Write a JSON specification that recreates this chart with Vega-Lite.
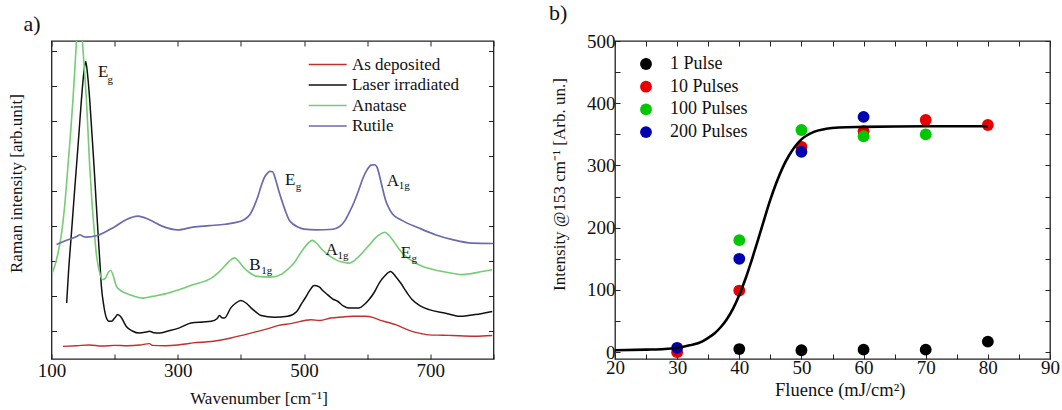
{
"$schema": "https://vega.github.io/schema/vega-lite/v6.json",
"background": "white",
"padding": {"left": 6.5, "top": 1, "right": 0, "bottom": 0},
"spacing": 52.5,
"resolve": {"scale": {"color": "independent"}, "legend": {"color": "independent"}},
"config": {
  "font": "Liberation Serif",
  "view": {"stroke": "#222", "strokeWidth": 1.3},
  "axis": {"domain": false, "grid": false, "tickColor": "#222", "tickSize": -5, "tickWidth": 1,
    "labelFont": "Liberation Serif", "labelFontSize": 19, "labelColor": "#111",
    "titleFont": "Liberation Serif", "titleFontSize": 17, "titleFontWeight": "normal", "titleColor": "#111",
    "labelFlush": false, "labelOverlap": false},
  "legend": {"labelFont": "Liberation Serif", "labelColor": "#111", "padding": 0, "title": null},
  "title": {"font": "Liberation Serif", "fontSize": 22, "fontWeight": "normal", "color": "#111", "anchor": "start", "frame": "group"}
},
"datasets": {
  "spectra": [
    {"s":"As deposited","wn":118,"I":56},{"s":"As deposited","wn":140,"I":58},{"s":"As deposited","wn":160,"I":60},{"s":"As deposited","wn":180,"I":57},{"s":"As deposited","wn":200,"I":59},{"s":"As deposited","wn":220,"I":58},{"s":"As deposited","wn":240,"I":60},{"s":"As deposited","wn":255,"I":64},{"s":"As deposited","wn":260,"I":59},{"s":"As deposited","wn":280,"I":58},{"s":"As deposited","wn":300,"I":60},{"s":"As deposited","wn":313,"I":63},{"s":"As deposited","wn":324,"I":66},{"s":"As deposited","wn":353,"I":70},{"s":"As deposited","wn":384,"I":80},{"s":"As deposited","wn":416,"I":94},{"s":"As deposited","wn":447,"I":109},{"s":"As deposited","wn":460,"I":116},{"s":"As deposited","wn":479,"I":121},{"s":"As deposited","wn":511,"I":132},{"s":"As deposited","wn":525,"I":130},{"s":"As deposited","wn":542,"I":137},{"s":"As deposited","wn":560,"I":140},{"s":"As deposited","wn":577,"I":142},{"s":"As deposited","wn":597,"I":142},{"s":"As deposited","wn":610,"I":138},{"s":"As deposited","wn":619,"I":132},{"s":"As deposited","wn":632,"I":125},{"s":"As deposited","wn":645,"I":118},{"s":"As deposited","wn":658,"I":108},{"s":"As deposited","wn":671,"I":99},{"s":"As deposited","wn":685,"I":93},{"s":"As deposited","wn":698,"I":89},{"s":"As deposited","wn":720,"I":88},{"s":"As deposited","wn":735,"I":87},{"s":"As deposited","wn":771,"I":85},{"s":"As deposited","wn":798,"I":87},
    {"s":"Laser irradiated","wn":124,"I":180},{"s":"Laser irradiated","wn":127,"I":270},{"s":"Laser irradiated","wn":131.6,"I":380},{"s":"Laser irradiated","wn":135.5,"I":475},{"s":"Laser irradiated","wn":139.5,"I":570},{"s":"Laser irradiated","wn":143.5,"I":665},{"s":"Laser irradiated","wn":147.4,"I":761},{"s":"Laser irradiated","wn":151,"I":835},{"s":"Laser irradiated","wn":154.2,"I":870},{"s":"Laser irradiated","wn":157,"I":835},{"s":"Laser irradiated","wn":160.5,"I":761},{"s":"Laser irradiated","wn":164,"I":665},{"s":"Laser irradiated","wn":167.4,"I":570},{"s":"Laser irradiated","wn":170.5,"I":475},{"s":"Laser irradiated","wn":173.7,"I":380},{"s":"Laser irradiated","wn":176.5,"I":300},{"s":"Laser irradiated","wn":179,"I":228},{"s":"Laser irradiated","wn":183,"I":170},{"s":"Laser irradiated","wn":187,"I":137},{"s":"Laser irradiated","wn":191,"I":128},{"s":"Laser irradiated","wn":195,"I":128},{"s":"Laser irradiated","wn":200,"I":137},{"s":"Laser irradiated","wn":205,"I":147},{"s":"Laser irradiated","wn":210,"I":140},{"s":"Laser irradiated","wn":218.5,"I":113},{"s":"Laser irradiated","wn":228,"I":100},{"s":"Laser irradiated","wn":239.5,"I":94},{"s":"Laser irradiated","wn":250,"I":97},{"s":"Laser irradiated","wn":255,"I":99},{"s":"Laser irradiated","wn":262,"I":95},{"s":"Laser irradiated","wn":271,"I":94},{"s":"Laser irradiated","wn":285,"I":100},{"s":"Laser irradiated","wn":302.7,"I":109},{"s":"Laser irradiated","wn":321,"I":123},{"s":"Laser irradiated","wn":340,"I":126},{"s":"Laser irradiated","wn":353,"I":128},{"s":"Laser irradiated","wn":362,"I":135},{"s":"Laser irradiated","wn":366,"I":144},{"s":"Laser irradiated","wn":370,"I":138},{"s":"Laser irradiated","wn":374,"I":137},{"s":"Laser irradiated","wn":384,"I":166},{"s":"Laser irradiated","wn":392,"I":180},{"s":"Laser irradiated","wn":400,"I":187},{"s":"Laser irradiated","wn":408,"I":180},{"s":"Laser irradiated","wn":416,"I":166},{"s":"Laser irradiated","wn":424,"I":154},{"s":"Laser irradiated","wn":432,"I":144},{"s":"Laser irradiated","wn":453,"I":139},{"s":"Laser irradiated","wn":474,"I":142},{"s":"Laser irradiated","wn":488,"I":155},{"s":"Laser irradiated","wn":495,"I":175},{"s":"Laser irradiated","wn":502,"I":195},{"s":"Laser irradiated","wn":508,"I":213},{"s":"Laser irradiated","wn":516,"I":230},{"s":"Laser irradiated","wn":524,"I":226},{"s":"Laser irradiated","wn":530,"I":215},{"s":"Laser irradiated","wn":537,"I":204},{"s":"Laser irradiated","wn":545,"I":192},{"s":"Laser irradiated","wn":553,"I":185},{"s":"Laser irradiated","wn":562,"I":172},{"s":"Laser irradiated","wn":571,"I":166},{"s":"Laser irradiated","wn":587,"I":166},{"s":"Laser irradiated","wn":595,"I":175},{"s":"Laser irradiated","wn":603,"I":190},{"s":"Laser irradiated","wn":611,"I":210},{"s":"Laser irradiated","wn":619,"I":237},{"s":"Laser irradiated","wn":628,"I":258},{"s":"Laser irradiated","wn":637,"I":270},{"s":"Laser irradiated","wn":645,"I":256},{"s":"Laser irradiated","wn":653,"I":237},{"s":"Laser irradiated","wn":662,"I":212},{"s":"Laser irradiated","wn":671,"I":190},{"s":"Laser irradiated","wn":684,"I":172},{"s":"Laser irradiated","wn":698,"I":161},{"s":"Laser irradiated","wn":724,"I":151},{"s":"Laser irradiated","wn":748,"I":142},{"s":"Laser irradiated","wn":771,"I":147},{"s":"Laser irradiated","wn":798,"I":156},
    {"s":"Anatase","wn":101,"I":266},{"s":"Anatase","wn":105,"I":285},{"s":"Anatase","wn":110,"I":320},{"s":"Anatase","wn":116,"I":380},{"s":"Anatase","wn":121,"I":460},{"s":"Anatase","wn":126,"I":570},{"s":"Anatase","wn":130,"I":660},{"s":"Anatase","wn":134,"I":761},{"s":"Anatase","wn":137,"I":850},{"s":"Anatase","wn":139.5,"I":928},{"s":"Anatase","wn":144,"I":1100},{"s":"Anatase","wn":149,"I":928},{"s":"Anatase","wn":152,"I":850},{"s":"Anatase","wn":155.3,"I":761},{"s":"Anatase","wn":160.5,"I":571},{"s":"Anatase","wn":164,"I":470},{"s":"Anatase","wn":168,"I":380},{"s":"Anatase","wn":171,"I":320},{"s":"Anatase","wn":174,"I":286},{"s":"Anatase","wn":177,"I":262},{"s":"Anatase","wn":180.5,"I":247},{"s":"Anatase","wn":185,"I":250},{"s":"Anatase","wn":190,"I":268},{"s":"Anatase","wn":193.7,"I":273},{"s":"Anatase","wn":197,"I":262},{"s":"Anatase","wn":202.7,"I":228},{"s":"Anatase","wn":210,"I":215},{"s":"Anatase","wn":218,"I":208},{"s":"Anatase","wn":230,"I":200},{"s":"Anatase","wn":245,"I":194},{"s":"Anatase","wn":260,"I":199},{"s":"Anatase","wn":280,"I":206},{"s":"Anatase","wn":302,"I":218},{"s":"Anatase","wn":324,"I":232},{"s":"Anatase","wn":353,"I":251},{"s":"Anatase","wn":365,"I":268},{"s":"Anatase","wn":374,"I":285},{"s":"Anatase","wn":383,"I":302},{"s":"Anatase","wn":390,"I":309},{"s":"Anatase","wn":397,"I":298},{"s":"Anatase","wn":405,"I":280},{"s":"Anatase","wn":415,"I":265},{"s":"Anatase","wn":426,"I":256},{"s":"Anatase","wn":447,"I":254},{"s":"Anatase","wn":463,"I":261},{"s":"Anatase","wn":474,"I":276},{"s":"Anatase","wn":484,"I":294},{"s":"Anatase","wn":492,"I":316},{"s":"Anatase","wn":500,"I":337},{"s":"Anatase","wn":507,"I":352},{"s":"Anatase","wn":513,"I":359},{"s":"Anatase","wn":520,"I":350},{"s":"Anatase","wn":529,"I":332},{"s":"Anatase","wn":540,"I":315},{"s":"Anatase","wn":550,"I":304},{"s":"Anatase","wn":560,"I":297},{"s":"Anatase","wn":571,"I":294},{"s":"Anatase","wn":582,"I":305},{"s":"Anatase","wn":592,"I":323},{"s":"Anatase","wn":603,"I":345},{"s":"Anatase","wn":613,"I":366},{"s":"Anatase","wn":620,"I":376},{"s":"Anatase","wn":628,"I":382},{"s":"Anatase","wn":635,"I":372},{"s":"Anatase","wn":642,"I":356},{"s":"Anatase","wn":650,"I":335},{"s":"Anatase","wn":661,"I":313},{"s":"Anatase","wn":674,"I":297},{"s":"Anatase","wn":687,"I":285},{"s":"Anatase","wn":700,"I":278},{"s":"Anatase","wn":719,"I":270},{"s":"Anatase","wn":735,"I":265},{"s":"Anatase","wn":750,"I":261},{"s":"Anatase","wn":765,"I":264},{"s":"Anatase","wn":782,"I":270},{"s":"Anatase","wn":798,"I":275},
    {"s":"Rutile","wn":108,"I":347},{"s":"Rutile","wn":125,"I":360},{"s":"Rutile","wn":140,"I":370},{"s":"Rutile","wn":145,"I":375},{"s":"Rutile","wn":150,"I":370},{"s":"Rutile","wn":155,"I":368},{"s":"Rutile","wn":171,"I":372},{"s":"Rutile","wn":185,"I":383},{"s":"Rutile","wn":197,"I":394},{"s":"Rutile","wn":218,"I":418},{"s":"Rutile","wn":237,"I":428},{"s":"Rutile","wn":255,"I":418},{"s":"Rutile","wn":276,"I":399},{"s":"Rutile","wn":300,"I":389},{"s":"Rutile","wn":324,"I":397},{"s":"Rutile","wn":350,"I":401},{"s":"Rutile","wn":375,"I":405},{"s":"Rutile","wn":389,"I":409},{"s":"Rutile","wn":405,"I":418},{"s":"Rutile","wn":414,"I":432},{"s":"Rutile","wn":421,"I":457},{"s":"Rutile","wn":427,"I":485},{"s":"Rutile","wn":432,"I":514},{"s":"Rutile","wn":437,"I":538},{"s":"Rutile","wn":442,"I":551},{"s":"Rutile","wn":446,"I":556},{"s":"Rutile","wn":450,"I":555},{"s":"Rutile","wn":455,"I":532},{"s":"Rutile","wn":460,"I":500},{"s":"Rutile","wn":466,"I":466},{"s":"Rutile","wn":471,"I":440},{"s":"Rutile","wn":476,"I":418},{"s":"Rutile","wn":483,"I":405},{"s":"Rutile","wn":490,"I":397},{"s":"Rutile","wn":500,"I":391},{"s":"Rutile","wn":520,"I":389},{"s":"Rutile","wn":540,"I":390},{"s":"Rutile","wn":550,"I":393},{"s":"Rutile","wn":558,"I":401},{"s":"Rutile","wn":565,"I":416},{"s":"Rutile","wn":572,"I":440},{"s":"Rutile","wn":579,"I":467},{"s":"Rutile","wn":587,"I":505},{"s":"Rutile","wn":594,"I":540},{"s":"Rutile","wn":600,"I":561},{"s":"Rutile","wn":606,"I":574},{"s":"Rutile","wn":612,"I":575},{"s":"Rutile","wn":616,"I":566},{"s":"Rutile","wn":621,"I":532},{"s":"Rutile","wn":625,"I":502},{"s":"Rutile","wn":629,"I":474},{"s":"Rutile","wn":635,"I":449},{"s":"Rutile","wn":640,"I":434},{"s":"Rutile","wn":655,"I":416},{"s":"Rutile","wn":682,"I":394},{"s":"Rutile","wn":708,"I":375},{"s":"Rutile","wn":735,"I":361},{"s":"Rutile","wn":766,"I":351},{"s":"Rutile","wn":800,"I":350}
  ],
  "ann": [
    {"wn":173.8,"I":826,"t":"E"},{"wn":469.7,"I":518,"t":"E"},{"wn":630.8,"I":515,"t":"A"},{"wn":413,"I":275,"t":"B"},{"wn":534,"I":318,"t":"A"},{"wn":653,"I":309,"t":"E"}
  ],
  "sub": [
    {"wn":188.5,"I":808,"t":"g"},{"wn":487,"I":502,"t":"g"},{"wn":650,"I":505,"t":"1g"},{"wn":432,"I":264,"t":"1g"},{"wn":553,"I":307,"t":"1g"},{"wn":670,"I":297,"t":"g"}
  ],
  "pts": [
    {"p":"1 Pulse","f":40,"v":5},{"p":"1 Pulse","f":50,"v":3},{"p":"1 Pulse","f":60,"v":4},{"p":"1 Pulse","f":70,"v":4},{"p":"1 Pulse","f":80,"v":17},
    {"p":"10 Pulses","f":30,"v":0},{"p":"10 Pulses","f":40,"v":99},{"p":"10 Pulses","f":50,"v":330},{"p":"10 Pulses","f":60,"v":355},{"p":"10 Pulses","f":70,"v":373},{"p":"10 Pulses","f":80,"v":365},
    {"p":"100 Pulses","f":40,"v":180},{"p":"100 Pulses","f":50,"v":357},{"p":"100 Pulses","f":60,"v":347},{"p":"100 Pulses","f":70,"v":350},
    {"p":"200 Pulses","f":30,"v":7},{"p":"200 Pulses","f":40,"v":150},{"p":"200 Pulses","f":50,"v":322},{"p":"200 Pulses","f":60,"v":378}
  ],
  "fit": [
    {"f":20,"v":3},{"f":25,"v":4},{"f":28,"v":5},{"f":30,"v":7},{"f":32,"v":11},{"f":34,"v":17},{"f":35,"v":23},{"f":36,"v":30},{"f":37,"v":40},{"f":38,"v":53},{"f":39,"v":70},{"f":40,"v":92},{"f":41,"v":118},{"f":42,"v":148},{"f":43,"v":180},{"f":44,"v":213},{"f":45,"v":245},{"f":46,"v":273},{"f":47,"v":297},{"f":48,"v":316},{"f":49,"v":331},{"f":50,"v":342},{"f":52,"v":354},{"f":54,"v":359},{"f":56,"v":361},{"f":60,"v":362},{"f":70,"v":363},{"f":80,"v":363}
  ]
},
"hconcat": [
  {
    "width": 442, "height": 318,
    "title": {"text": "a)", "dx": -28, "offset": 5},
    "resolve": {"axis": {"x": "independent", "y": "independent"}},
    "layer": [
      {
        "data": {"name": "spectra"},
        "mark": {"type": "line", "clip": true, "interpolate": "monotone"},
        "encoding": {
          "x": {"field": "wn", "type": "quantitative", "scale": {"domain": [100, 800], "nice": false, "zero": false},
            "axis": {"orient": "bottom", "values": [100,200,300,400,500,600,700,800], "labelExpr": "datum.value % 200 == 100 ? datum.label : ''", "labelPadding": 7, "title": "Wavenumber [cm⁻¹]", "titleX": 207, "titlePadding": 10}},
          "y": {"field": "I", "type": "quantitative", "scale": {"domain": [20, 928.5], "nice": false, "zero": false},
            "axis": {"orient": "left", "values": [100,200,300,400,500,600,700,800,900], "labels": false, "title": "Raman intensity [arb.unit]", "titleY": 142, "titlePadding": 25.5}},
          "color": {"field": "s", "type": "nominal",
            "scale": {"domain": ["As deposited", "Laser irradiated", "Anatase", "Rutile"], "range": ["#c0302c", "#111111", "#74cc74", "#6a6aae"]},
            "legend": {"orient": "none", "legendX": 267.7, "legendY": 15, "symbolType": "M-3,0H3", "symbolSize": 160, "symbolStrokeWidth": 1.4, "labelFontSize": 17, "labelOffset": 15.7, "rowPadding": 2.5}},
          "strokeWidth": {"field": "s", "type": "nominal",
            "scale": {"domain": ["As deposited", "Laser irradiated", "Anatase", "Rutile"], "range": [1.4, 1.7, 1.3, 1.0]},
            "legend": null}
        }
      },
      {
        "data": {"name": "ann"},
        "mark": {"type": "text", "align": "left", "baseline": "alphabetic", "fontSize": 17, "color": "#111"},
        "encoding": {
          "x": {"field": "wn", "type": "quantitative", "axis": {"orient": "top", "values": [100,200,300,400,500,600,700,800], "labels": false, "title": null}},
          "y": {"field": "I", "type": "quantitative", "axis": {"orient": "right", "values": [100,200,300,400,500,600,700,800,900], "labels": false, "title": null}},
          "text": {"field": "t"}
        }
      },
      {
        "data": {"name": "sub"},
        "mark": {"type": "text", "align": "left", "baseline": "alphabetic", "fontSize": 11, "color": "#111"},
        "encoding": {
          "x": {"field": "wn", "type": "quantitative", "axis": null},
          "y": {"field": "I", "type": "quantitative", "axis": null},
          "text": {"field": "t"}
        }
      }
    ]
  },
  {
    "width": 435, "height": 318,
    "title": {"text": "b)", "dx": -66, "offset": 7},
    "resolve": {"axis": {"x": "independent", "y": "independent"}},
    "layer": [
      {
        "data": {"name": "pts"},
        "mark": {"type": "circle", "size": 140, "opacity": 1},
        "encoding": {
          "x": {"field": "f", "type": "quantitative", "scale": {"domain": [20, 90], "nice": false, "zero": false},
            "axis": {"orient": "bottom", "values": [20,25,30,35,40,45,50,55,60,65,70,75,80,85,90], "labelExpr": "datum.value % 10 == 0 ? datum.label : ''", "labelPadding": 4, "title": "Fluence (mJ/cm²)", "titleFontSize": 18.5, "titleX": 224.7, "titlePadding": 3}},
          "y": {"field": "v", "type": "quantitative", "scale": {"domain": [-11, 500], "nice": false, "zero": false},
            "axis": {"orient": "left", "values": [0,50,100,150,200,250,300,350,400,450,500], "labelExpr": "datum.value % 100 == 0 ? datum.label : ''", "labelPadding": 5, "title": "Intensity @153 cm⁻¹ [Arb. un.]", "titleY": 143, "titlePadding": 18}},
          "color": {"field": "p", "type": "nominal",
            "scale": {"domain": ["1 Pulse", "10 Pulses", "100 Pulses", "200 Pulses"], "range": ["#000000", "#e60000", "#00c800", "#0000b0"]},
            "legend": {"orient": "none", "legendX": 22, "legendY": 14, "symbolType": "circle", "symbolSize": 140, "symbolStrokeWidth": 0, "symbolOpacity": 1, "labelFontSize": 18, "labelOffset": 15, "rowPadding": 4.7}}
        }
      },
      {
        "data": {"name": "fit"},
        "mark": {"type": "line", "color": "#000000", "strokeWidth": 2.6, "interpolate": "monotone"},
        "encoding": {
          "x": {"field": "f", "type": "quantitative", "axis": {"orient": "top", "values": [20,25,30,35,40,45,50,55,60,65,70,75,80,85,90], "labels": false, "title": null}},
          "y": {"field": "v", "type": "quantitative", "axis": {"orient": "right", "values": [0,50,100,150,200,250,300,350,400,450,500], "labels": false, "title": null}}
        }
      }
    ]
  }
]
}
